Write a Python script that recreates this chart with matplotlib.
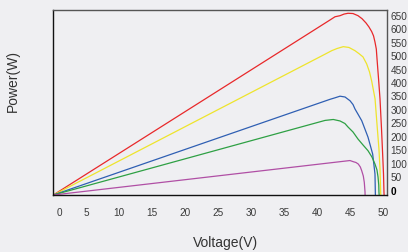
import matplotlib
matplotlib.use("Agg")
import matplotlib.pyplot as plt
from matplotlib.transforms import ScaledTranslation

plt.rcParams['font.family'] = ['Liberation Sans', 'DejaVu Sans']

# Voltage (V) / Power (W)
red_v = [0, 37.38, 41.92, 42.68, 43.44, 44.05, 44.65, 45.41, 46.17, 46.77, 47.38, 47.83, 48.24,
         48.52, 48.74, 48.94, 49.05, 49.28, 49.50, 49.73, 49.90, 50.03, 50.10, 50.12]
red_p = [0, 579.5, 650, 662, 666, 672, 675, 674, 666, 655, 639, 624, 607,
         591, 568, 542, 505, 431, 357, 245, 152, 78, 11, 0]

yellow_v = [0, 41.17, 42.18, 42.98, 43.94, 44.80, 45.71, 46.32, 46.92, 47.48, 47.91, 48.24,
            48.75, 49.04, 49.34, 49.50, 49.60, 49.62]
yellow_p = [0, 523, 536, 544, 551, 548, 536, 525, 513, 487, 457, 423,
            357, 264, 171, 97, 11, 0]

blue_v = [0, 41.94, 42.68, 43.44, 44.20, 44.96, 45.41, 45.71, 46.24, 46.73, 46.92, 47.68,
          48.39, 48.74, 48.79, 48.80]
blue_p = [0, 355.5, 361, 367, 364, 350, 336, 319.5, 297, 276, 264, 215,
          152, 78, 11, 0]

green_v = [0, 41.17, 42.42, 43.44, 44.18, 44.65, 45.41, 46.16, 46.92, 47.68, 48.28, 48.74,
           49.04, 49.20, 49.31, 49.34, 49.37]
green_p = [0, 277, 280.5, 275, 265.6, 252.6, 234, 208, 186, 164.6, 141, 115,
           93, 67, 37, 11, 0]

purple_v = [0, 44.95, 45.45, 45.86, 46.21, 46.52, 46.73, 46.97, 47.12, 47.23, 47.24]
purple_p = [0, 128, 123.7, 120.7, 115, 104, 90, 70.6, 47, 11, 0]

x_ticks = [0, 5, 10, 15, 20, 25, 30, 35, 40, 45, 50]
y_ticks = [0, 50, 100, 150, 200, 250, 300, 350, 400, 450, 500, 550, 600, 650]

series = [
    (red_v, red_p, '#e8282a'),
    (yellow_v, yellow_p, '#eee42c'),
    (blue_v, blue_p, '#2f5fb3'),
    (green_v, green_p, '#2ea044'),
    (purple_v, purple_p, '#b04fa5'),
]

bg = '#efeff2'
fig = plt.figure(figsize=(4.08, 2.53), dpi=100, facecolor=bg)
ax = fig.add_axes([53.3/408, (253-196)/253, (387-53.3)/408, (196-10.5)/253])
ax.set_facecolor(bg)

for v, p, c in series:
    ax.plot(v, p, color=c, lw=0.9, solid_capstyle='round', solid_joinstyle='round')

ax.set_xlim(0, 50.56)
ax.set_ylim(0, 689)

ax.set_xticks(x_ticks)
ax.set_xticklabels([str(t) for t in x_ticks])
ax.set_yticks(y_ticks)
ax.set_yticklabels([str(t) for t in y_ticks])
ax.yaxis.tick_right()
ax.tick_params(axis='x', length=0, pad=9, labelsize=7.2, colors='#3a3a3a')
ax.tick_params(axis='y', length=0, pad=2.5, labelsize=7.2, colors='#3a3a3a')

# first x label is nudged inside; all y labels sit slightly above their values
dx = ScaledTranslation(5.7/100, 0, fig.dpi_scale_trans)
first = ax.get_xticklabels()[0]
first.set_transform(first.get_transform() + dx)
dy = ScaledTranslation(0, 5.3/100, fig.dpi_scale_trans)
for lab in ax.get_yticklabels():
    lab.set_transform(lab.get_transform() + dy)
ax.get_yticklabels()[0].set_fontweight('bold')
ax.get_yticklabels()[0].set_color('#000000')

for side in ['left', 'bottom']:
    ax.spines[side].set_color('#111111')
    ax.spines[side].set_linewidth(1.0)
for side in ['top', 'right']:
    ax.spines[side].set_color('#555555')
    ax.spines[side].set_linewidth(1.0)

fig.text(13/408, 1 - 81/253, 'Power(W)', rotation=90, ha='center', va='center',
         fontsize=10, color='#333333')
fig.text(225/408, 1 - 243/253, 'Voltage(V)', ha='center', va='center',
         fontsize=10, color='#333333')

fig.savefig('out.png', dpi=100, facecolor=bg)
